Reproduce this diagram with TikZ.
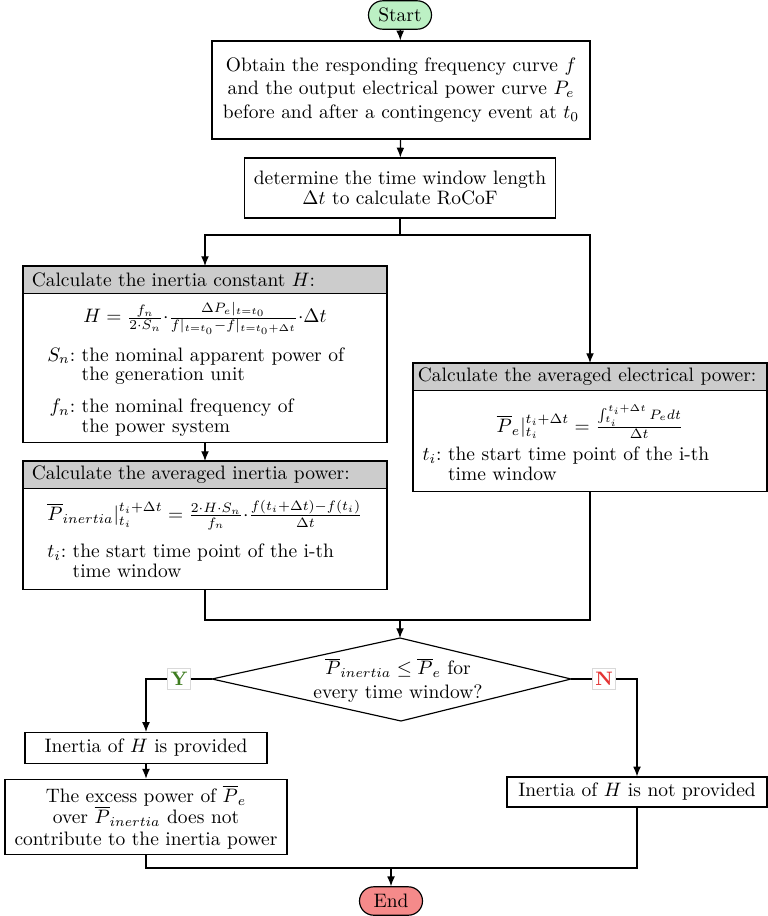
\documentclass[tikz,border=0pt]{standalone}
\usepackage{amsmath}
\usetikzlibrary{shapes, shapes.geometric, shapes.misc}
\usetikzlibrary{arrows, arrows.meta}
\usetikzlibrary{calc, positioning}

\definecolor{startgreen}{RGB}{188,240,196}
\definecolor{endred}{RGB}{245,138,138}
\definecolor{yesgreen}{RGB}{62,125,32}
\definecolor{nored}{RGB}{228,52,52}

% symbol with a two-line explanation, colons aligned
\newcommand{\symrow}[3]{$#1$: & #2\\ & #3}

\begin{document}
\begin{tikzpicture}[x = 0.514pt, y = -0.514pt, line width = 0.6pt,
    arr/.style = {-{Latex[length = 5pt, width = 4pt]}},
    terminal/.style = {draw, rounded rectangle, minimum width = 34.4pt,
        minimum height = 14.6pt, inner sep = 1pt},
    process/.style = {draw, align = center, inner sep = 3pt},
    head/.style = {draw, fill = black!20, align = left, outer sep = 0pt,
        anchor = north, inner xsep = 4.5pt, inner ysep = 0pt, minimum height = 14pt},
    body/.style = {draw, align = left, outer sep = 0pt, inner xsep = 4.5pt,
        inner ysep = 2pt},
    answer/.style = {draw = black!15, fill = white, inner xsep = 1.6pt,
        inner ysep = 2pt, font = \bfseries}]

    \useasboundingbox (0,0) rectangle (767,916);

    \def\wideW{178.1pt}
    \def\elecW{177pt}

    % top of the chart
    \node[terminal, fill = startgreen] (start) at (400,15) {Start};
    \node[process, minimum width = 194.3pt, minimum height = 50.4pt] (curves) at (401,90)
        {Obtain the responding frequency curve $f$\\
         and the output electrical power curve $P_e$\\
         before and after a contingency event at $t_0$};
    \node[process, minimum width = 159.9pt, minimum height = 30.8pt] (window) at (400,188)
        {determine the time window length\\[-1.5pt] $\Delta t$ to calculate RoCoF};

    \coordinate (split) at (400,235);

    % left branch: inertia constant and inertia power
    \node[head, text width = \wideW] (hHead) at (205,266) {Calculate the inertia constant $H$:};
    \node[body, text width = \wideW, minimum height = 76.6pt, below = 0pt of hHead] (hBody)
        {\makebox[\linewidth]{\rule{0pt}{13.2pt}$H = \frac{f_n}{2\cdot S_n}{\cdot}
            \frac{\Delta P_e|_{t=t_0}}{f|_{t=t_0}-f|_{t=t_0+\Delta t}}{\cdot}\Delta t$}\\[5.5pt]
         \hspace*{8pt}{\renewcommand{\arraystretch}{0.85}%
         \begin{tabular}{@{}r@{\ }l@{}}
            \symrow{S_n}{the nominal apparent power of}{the generation unit}\\[6pt]
            \symrow{f_n}{the nominal frequency of}{the power system}
         \end{tabular}}};

    \node[head, text width = \wideW] (pinHead) at (205,461) {Calculate the averaged inertia power:};
    \node[body, text width = \wideW, minimum height = 51.9pt, below = 0pt of pinHead] (pinBody)
        {\makebox[\linewidth]{\rule{0pt}{13.3pt}$\overline{P}_{inertia}|_{t_i}^{t_i+\Delta t} =
            \frac{2\cdot H\cdot S_n}{f_n}{\cdot}\frac{f(t_i+\Delta t)-f(t_i)}{\Delta t}$}\\[6pt]
         \hspace*{8pt}{\renewcommand{\arraystretch}{0.85}%
         \begin{tabular}{@{}r@{\ }l@{}}
            \symrow{t_i}{the start time point of the i-th}{time window}
         \end{tabular}}};

    % right branch: electrical power
    \node[head, text width = \elecW, inner xsep = 2.5pt] (peHead) at (590,363)
        {Calculate the averaged electrical power:};
    \node[body, text width = \elecW, inner xsep = 2.5pt, minimum height = 51.9pt,
        below = 0pt of peHead] (peBody)
        {\makebox[\linewidth]{\rule{0pt}{19pt}$\overline{P}_e|_{t_i}^{t_i+\Delta t} =
            \frac{\int_{t_i}^{t_i+\Delta t} P_e dt}{\Delta t}$}\\[3pt]
         \hspace*{2.5pt}{\renewcommand{\arraystretch}{0.85}%
         \begin{tabular}{@{}r@{\ }l@{}}
            \symrow{t_i}{the start time point of the i-th}{time window}
         \end{tabular}}};

    \coordinate (mergeA) at (400,620);

    % decision: corners of the diamond, then its text
    \coordinate (checkT) at (400,638);
    \coordinate (checkR) at (571,679);
    \coordinate (checkB) at (401,721);
    \coordinate (checkL) at (212,679);
    \draw (checkT) -- (checkR) -- (checkB) -- (checkL) -- cycle;
    \node[align = center, inner sep = 0pt] (check) at (398,680)
        {$\overline{P}_{inertia} \leq \overline{P}_e$ for\\ every time window?};

    \node[process, minimum width = 124.4pt, minimum height = 15.9pt] (provided) at (146,748)
        {Inertia of $H$ is provided};
    \node[process, minimum width = 145pt, minimum height = 35pt] (excess) at (146,817)
        {The excess power of $\overline{P}_e$\\[-1pt] over $\overline{P}_{inertia}$ does not\\[-1pt]
         contribute to the inertia power};
    \node[process, minimum width = 133.6pt, minimum height = 15.4pt] (notprov) at (637,792)
        {Inertia of $H$ is not provided};

    \coordinate (mergeB) at (391,868);
    \node[terminal, fill = endred] (stop) at (391,901) {End};

    % connectors
    \draw[arr] (start) -- (curves);
    \draw[arr] (curves) -- (window);
    \draw (window.south) -- (split);
    \draw[arr] (split) -| (hHead.north);
    \draw[arr] (split) -| (peHead.north);
    \draw[arr] (hBody.south) -- (pinHead.north);
    \draw (pinBody.south) |- (mergeA);
    \draw (peBody.south) |- (mergeA);
    \draw[arr] (mergeA) -- (checkT);
    \draw[arr] (checkL) -| node[answer, pos = 0.25, text = yesgreen] {Y} (provided.north);
    \draw[arr] (checkR) -| node[answer, pos = 0.25, text = nored] {N} (notprov.north);
    \draw[arr] (provided) -- (excess);
    \draw (excess.south) |- (mergeB);
    \draw (notprov.south) |- (mergeB);
    \draw[arr] (mergeB) -- (stop.north);

\end{tikzpicture}
\end{document}
